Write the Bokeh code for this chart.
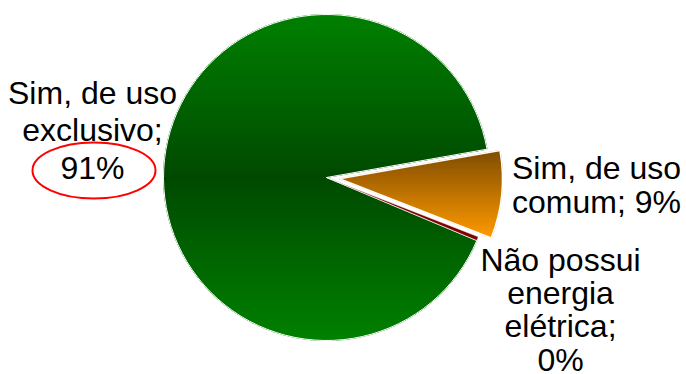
import math
from bokeh.plotting import figure
from bokeh.models import Range1d
from bokeh.embed import file_html
from bokeh.resources import INLINE
from bokeh.core.properties import value

categories = ["Sim, de uso exclusivo", "Sim, de uso comum", "Não possui energia elétrica"]
shares = [90.9, 8.7, 0.4]
labels = ["Sim, de uso\nexclusivo;\n91%", "Sim, de uso\ncomum; 9%", "Não possui\nenergia\nelétrica;\n0%"]

W, H = 686, 374
p = figure(width=W, height=H, x_range=Range1d(0, W), y_range=Range1d(0, H),
           output_backend="svg", toolbar_location=None, min_border=0)
p.axis.visible = False
p.grid.visible = False
p.outline_line_color = None
p.background_fill_color = "white"
p.border_fill_color = "white"

cx, cy, r = 326.0, 197.0, 163.0
total = sum(shares)
b = math.radians(10)
g_span = 2 * math.pi * shares[0] / total
o_span = 2 * math.pi * shares[1] / total
n_span = 2 * math.pi * shares[2] / total

green = (b, b + g_span)
orange = (b - o_span, b)
red = (b - o_span - n_span, b - o_span)

mid_o = (orange[0] + orange[1]) / 2
ex = 13.0
ocx, ocy = cx + ex * math.cos(mid_o), cy + ex * math.sin(mid_o)


def hex2rgb(h):
    h = h.lstrip("#")
    return tuple(int(h[i:i + 2], 16) for i in (0, 2, 4))


def interp(stops, t):
    for (t0, c0), (t1, c1) in zip(stops[:-1], stops[1:]):
        if t0 <= t <= t1:
            f = 0 if t1 == t0 else (t - t0) / (t1 - t0)
            a, bb = hex2rgb(c0), hex2rgb(c1)
            return "#%02x%02x%02x" % tuple(int(round(a[i] + (bb[i] - a[i]) * f)) for i in range(3))
    return stops[-1][1]


def wedge_poly(x0, y0, rad, a0, a1):
    n = max(12, int(math.degrees(a1 - a0) * 2))
    pts = [(x0, y0)]
    for i in range(n + 1):
        a = a0 + (a1 - a0) * i / n
        pts.append((x0 + rad * math.cos(a), y0 + rad * math.sin(a)))
    return pts


def clip(pts, yv, keep_above):
    out = []
    m = len(pts)
    for i in range(m):
        cur, prev = pts[i], pts[i - 1]
        cin = cur[1] >= yv if keep_above else cur[1] <= yv
        pin = prev[1] >= yv if keep_above else prev[1] <= yv
        if cin:
            if not pin:
                t = (yv - prev[1]) / (cur[1] - prev[1])
                out.append((prev[0] + t * (cur[0] - prev[0]), yv))
            out.append(cur)
        elif pin:
            t = (yv - prev[1]) / (cur[1] - prev[1])
            out.append((prev[0] + t * (cur[0] - prev[0]), yv))
    return out


def gradient_wedge(x0, y0, rad, a0, a1, stops, ytop, ybot, nb):
    poly = wedge_poly(x0, y0, rad, a0, a1)
    xs, ys, cols = [], [], []
    for k in range(nb):
        yt = ytop - (ytop - ybot) * k / nb
        yb = ytop - (ytop - ybot) * (k + 1) / nb
        part = clip(clip(poly, yb, True), yt, False)
        if len(part) < 3:
            continue
        xs.append([q[0] for q in part])
        ys.append([q[1] for q in part])
        cols.append(interp(stops, (k + 0.5) / nb))
    p.patches(xs, ys, fill_color=cols, line_color=cols, line_width=1)


# green slice
p.wedge(x=cx, y=cy, radius=r, start_angle=green[0], end_angle=green[1],
        fill_color="#006000", line_color=None)
gradient_wedge(cx, cy, r, green[0], green[1],
               [(0, "#008000"), (0.5, "#004a00"), (1, "#008000")], cy + r, cy - r, 110)
p.wedge(x=cx, y=cy, radius=r, start_angle=green[0], end_angle=green[1],
        fill_color=None, line_color="white", line_width=1)

# red slice
p.wedge(x=cx, y=cy, radius=r, start_angle=red[0], end_angle=red[1],
        fill_color="#800000", line_color="white", line_width=0.6)

# orange slice (exploded)
opoly = wedge_poly(ocx, ocy, r, orange[0], orange[1])
oy = [q[1] for q in opoly]
p.wedge(x=ocx, y=ocy, radius=r, start_angle=orange[0], end_angle=orange[1],
        fill_color="#c07000", line_color=None)
gradient_wedge(ocx, ocy, r, orange[0], orange[1],
               [(0, "#7f4c00"), (1, "#ff9a00")], max(oy), min(oy), 40)
p.wedge(x=ocx, y=ocy, radius=r, start_angle=orange[0], end_angle=orange[1],
        fill_color=None, line_color="white", line_width=1.5)

# labels: anchor x, first baseline (from top), line spacing
anchors = [(92, 92, 37.5), (596, 167, 34.0), (560, 259, 33.4)]
tx, ty, tt = [], [], []
for lab, (ax, ay, sp) in zip(labels, anchors):
    for i, line in enumerate(lab.split("\n")):
        tx.append(ax)
        ty.append(H - (ay + i * sp))
        tt.append(line)
p.text(x=tx, y=ty, text=tt,
       text_font=value("Liberation Sans"), text_font_size="32px",
       text_align="center", text_baseline="alphabetic",
       text_color="black")

# highlight ellipse
p.ellipse(x=93.5, y=H - 170, width=123, height=56, fill_color=None,
          line_color="red", line_width=2)

open("out.html", "w").write(file_html(p, INLINE))
